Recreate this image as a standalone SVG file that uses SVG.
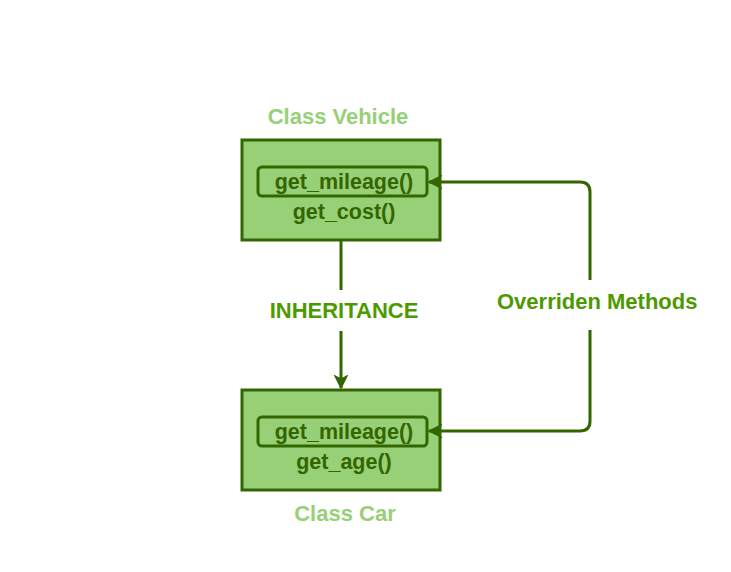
<svg xmlns="http://www.w3.org/2000/svg" width="731" height="572" viewBox="0 0 731 572">
<style>
.box{fill:#97D077;stroke:#336600;stroke-width:3}
.inner{fill:none;stroke:#336600;stroke-width:3}
.m{font-family:"Liberation Sans",Arial,sans-serif;font-weight:bold;font-size:21.5px;fill:#336600;text-anchor:middle}
.title{font-family:"Liberation Sans",Arial,sans-serif;font-weight:bold;font-size:22px;fill:#97D077;text-anchor:middle}
.lbl{font-family:"Liberation Sans",Arial,sans-serif;font-weight:bold;font-size:22px;fill:#4D9900}
.c{fill:none;stroke:#336600;stroke-width:3}
</style>
<defs>
<marker id="ah" viewBox="0 0 10 10" refX="9" refY="5" markerWidth="5" markerHeight="5" orient="auto" markerUnits="strokeWidth">
<path d="M0,0 L10,5 L0,10 L2.5,5 Z" fill="#336600"/>
</marker>
</defs>
<rect width="731" height="572" fill="#ffffff"/>
<g id="vehicle">
<text class="title" x="338" y="124">Class Vehicle</text>
<rect class="box" x="242" y="140" width="198" height="100"/>
<rect class="inner" x="258" y="167" width="169" height="29" rx="4"/>
<text class="m" x="344" y="189">get_mileage()</text>
<text class="m" x="344" y="219">get_cost()</text>
</g>
<g id="car">
<rect class="box" x="242" y="390" width="198" height="100"/>
<rect class="inner" x="258" y="417" width="169" height="29" rx="4"/>
<text class="m" x="344" y="439">get_mileage()</text>
<text class="m" x="344" y="469">get_age()</text>
<text class="title" x="345" y="521">Class Car</text>
</g>
<g id="connectors">
<path class="c" d="M341,240 V290"/>
<path class="c" d="M341,331 V388" marker-end="url(#ah)"/>
<path class="c" d="M590,280 V192 Q590,182 580,182 H429" marker-end="url(#ah)"/>
<path class="c" d="M590,330 V421 Q590,431 580,431 H429" marker-end="url(#ah)"/>
<text class="lbl" x="344" y="318" text-anchor="middle">INHERITANCE</text>
<text class="lbl" x="497" y="309">Overriden Methods</text>
</g>
</svg>
